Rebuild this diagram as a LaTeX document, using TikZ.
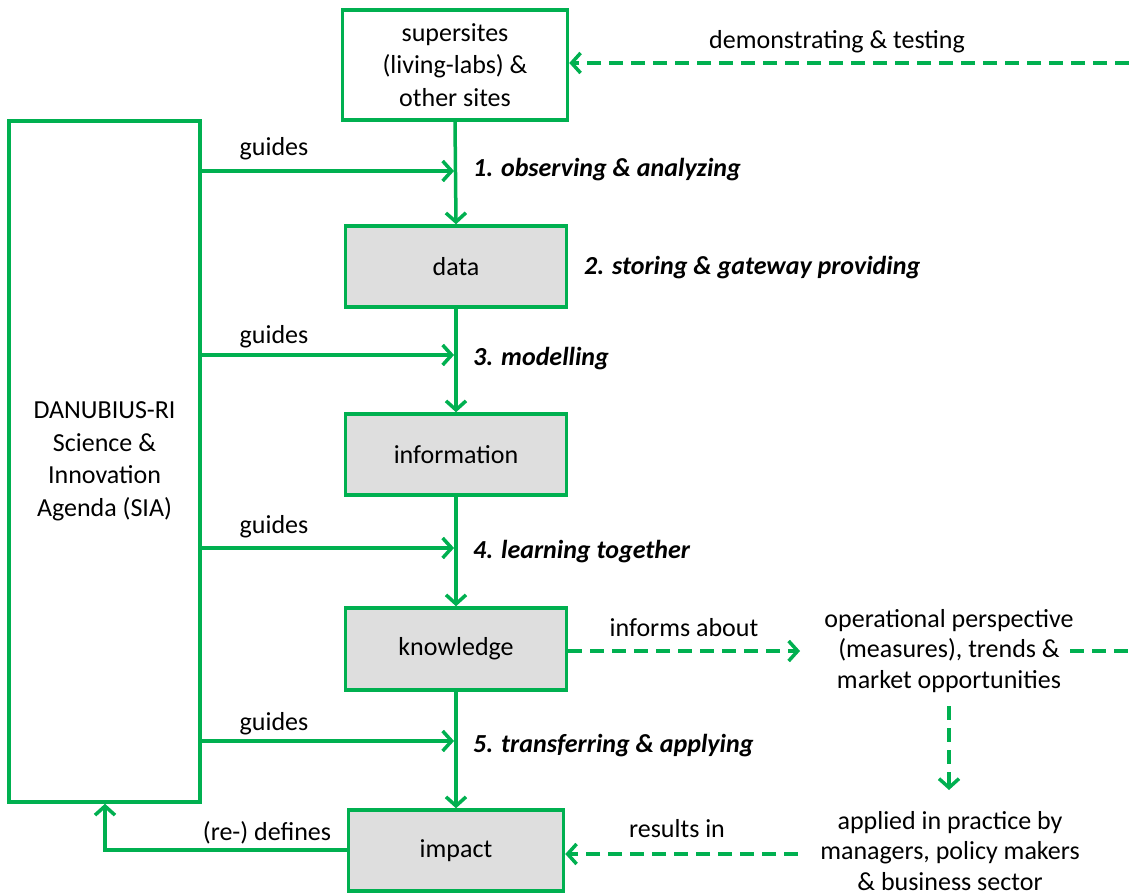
\documentclass[tikz,border=0pt]{standalone}
\usepackage{fontspec}
\setmainfont{Carlito}
\usetikzlibrary{arrows.meta}
\definecolor{flowgreen}{HTML}{00B050}
\definecolor{boxgray}{HTML}{DEDEDE}
\begin{document}
\begin{tikzpicture}[x=1pt,y=-1pt,
  font=\fontsize{26}{30}\selectfont,
  frame/.style={draw=flowgreen, line width=3.5pt, align=center, inner sep=0pt, font=\fontsize{26}{32.5}\selectfont},
  stage/.style={frame, fill=boxgray, minimum width=221pt, minimum height=81pt},
  flow/.style={draw=flowgreen, line width=3.5pt, -{Straight Barb[length=9pt,width=20pt,line width=3.5pt]}},
  plain/.style={draw=flowgreen, line width=3.5pt},
  hint/.style={flow, dash pattern=on 14pt off 8pt},
  dashline/.style={plain, dash pattern=on 14pt off 8pt},
  lbl/.style={inner sep=0pt, anchor=base},
  steplbl/.style={inner sep=0pt, anchor=base west, font=\fontsize{26}{30}\selectfont\bfseries\itshape},
  note/.style={align=center, inner sep=0pt, font=\fontsize{26}{30.5}\selectfont}]
\useasboundingbox (0,0) rectangle (1129,893);

% main column
\node[frame, minimum width=225pt, minimum height=110pt] (sites) at (455,65) {supersites\\(living-labs) \&\\other sites};
\node[stage] (data) at (456,266.5) {data};
\node[stage] (info) at (456,454.5) {information};
\node[stage, minimum height=82pt] (know) at (456,649) {knowledge};
\node[stage, minimum width=215pt] (impact) at (456,850.5) {impact};

% agenda box on the left
\node[frame, minimum width=191pt, minimum height=681pt] (sia) at (104.5,461.5) {DANUBIUS-RI\\Science \&\\Innovation\\Agenda (SIA)};

% vertical flow
\draw[flow] (sites.south) -- (data.north);
\draw[flow] (data.south) -- (info.north);
\draw[flow] (info.south) -- (know.north);
\draw[flow] (know.south) -- (impact.north);

% guides arrows
\coordinate (g1) at (454,171);
\coordinate (g2) at (454,355);
\coordinate (g3) at (454,548);
\coordinate (g4) at (454,741);
\draw[flow] (sia.east |- g1) -- (g1);
\draw[flow] (sia.east |- g2) -- (g2);
\draw[flow] (sia.east |- g3) -- (g3);
\draw[flow] (sia.east |- g4) -- (g4);
\node[lbl] (gl1) at (274,156) {guides};
\node[lbl] (gl2) at (274,343) {guides};
\node[lbl] (gl3) at (274,533) {guides};
\node[lbl] (gl4) at (274,730) {guides};

% stage labels
\node[steplbl] (s1) at (473,177) {1. observing \& analyzing};
\node[steplbl] (s2) at (584,275) {2. storing \& gateway providing};
\node[steplbl] (s3) at (473,365) {3. modelling};
\node[steplbl] (s4) at (473,558) {4. learning together};
\node[steplbl] (s5) at (473,752) {5. transferring \& applying};

% feedback to the agenda
\coordinate (rd) at (105,850);
\draw[flow] (impact.west |- rd) -- (rd) -- (sia.south -| rd);
\node[lbl] (rdl) at (267,840) {(re-) defines};

% demonstration input
\coordinate (demo) at (1129,63);
\draw[hint] (demo) -- (sites.east |- demo);
\node[lbl] (demol) at (837,49) {demonstrating \& testing};

% outward knowledge path
\node[note] (op) at (949,651) {operational perspective\\(measures), trends \&\\market opportunities};
\node[note] (app) at (950,851) {applied in practice by\\managers, policy makers\\\& business sector};
\coordinate (opin) at (800,651);
\draw[hint] (know.east |- opin) -- (opin);
\node[lbl] (infl) at (684,636) {informs about};
\coordinate (opr1) at (1070,651);
\coordinate (opr2) at (1129,651);
\draw[dashline] (opr1) -- (opr2);
\coordinate (opdown) at (949,706);
\coordinate (appup) at (949,790);
\draw[hint] (opdown) -- (appup);
\coordinate (appout) at (798,854);
\draw[hint] (appout) -- (impact.east |- appout);
\node[lbl] (resl) at (677,837) {results in};
\end{tikzpicture}
\end{document}
